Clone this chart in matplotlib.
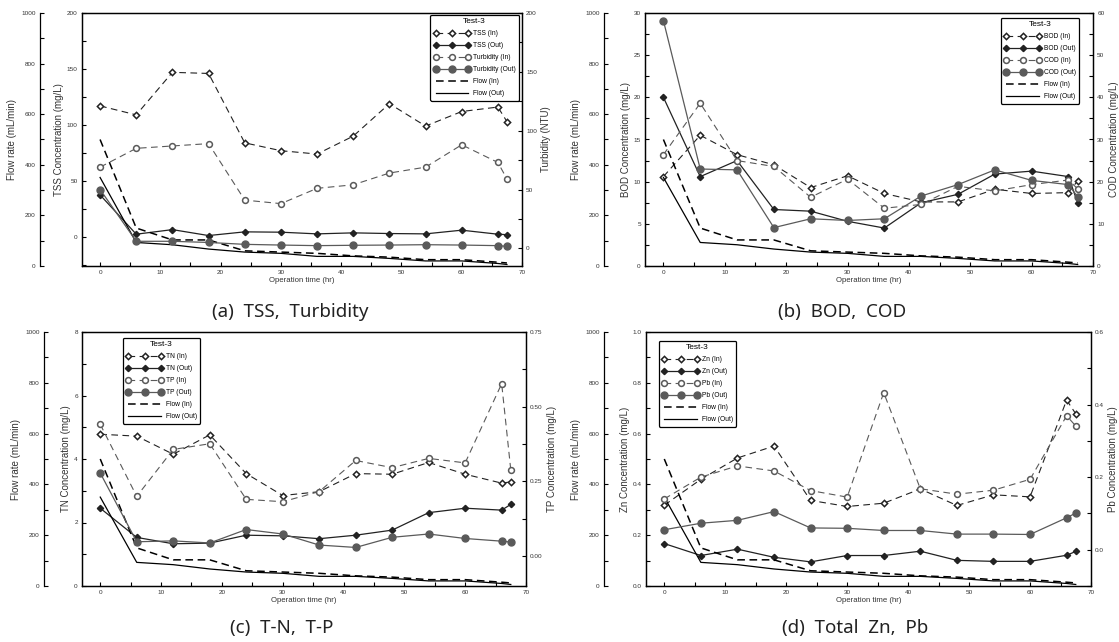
import matplotlib
matplotlib.use("Agg")
import matplotlib.pyplot as plt
from matplotlib.ticker import MultipleLocator

plt.rcParams['font.family'] = ['Liberation Sans', 'DejaVu Sans']

# sampling times (hr)
hours = [0, 6, 12, 18, 24, 30, 36, 42, 48, 54, 60, 66, 67.5]

# flow rate (mL/min), same run in every panel
flow_in = [500, 150, 103, 103, 60, 55, 50, 40, 35, 25, 25, 15, 12]
flow_out = [350, 93, 84, 67, 55, 50, 38, 38, 30, 20, 20, 10, 6]

# (a) TSS (mg/L), turbidity (NTU)
tss_in = [117, 109, 147, 146, 84, 77, 74, 90, 119, 99, 112, 116, 103]
tss_out = [37.5, 2.4, 6.5, 1.2, 4.5, 4.2, 2.7, 3.6, 3.0, 2.7, 6.0, 2.4, 2.0]
turb_in = [69, 85, 87, 89, 41, 38, 51, 54, 64, 69, 88, 73, 59]
turb_out = [50, 6, 6, 5, 3.4, 2.8, 2.3, 2.6, 2.8, 3.1, 2.8, 2.3, 1.7]

# (b) BOD, COD (mg/L)
bod_in = [10.6, 15.5, 13.2, 12.0, 9.3, 10.7, 8.6, 7.6, 7.6, 9.1, 8.6, 8.7, 10.1]
bod_out = [20.0, 10.6, 12.5, 6.7, 6.5, 5.3, 4.5, 7.5, 8.5, 10.9, 11.25, 10.6, 7.5]
cod_in = [26.4, 38.6, 25.0, 23.6, 16.3, 20.6, 13.7, 14.6, 18.9, 17.8, 19.3, 20.4, 18.3]
cod_out = [58.2, 23.0, 22.8, 9.1, 11.2, 10.8, 11.2, 16.6, 19.3, 22.8, 20.3, 19.3, 16.4]

# (c) T-N, T-P (mg/L)
tn_in = [4.78, 4.72, 4.15, 4.76, 3.54, 2.85, 2.97, 3.54, 3.52, 3.89, 3.52, 3.24, 3.28]
tn_out = [2.45, 1.53, 1.33, 1.35, 1.60, 1.58, 1.49, 1.60, 1.76, 2.31, 2.45, 2.39, 2.57]
tp_in = [0.441, 0.200, 0.357, 0.376, 0.190, 0.182, 0.216, 0.320, 0.296, 0.327, 0.312, 0.577, 0.288]
tp_out = [0.278, 0.048, 0.051, 0.044, 0.089, 0.074, 0.037, 0.029, 0.063, 0.074, 0.059, 0.050, 0.047]

# (d) Zn, Pb (mg/L)
zn_in = [0.318, 0.420, 0.504, 0.551, 0.337, 0.313, 0.326, 0.382, 0.317, 0.359, 0.351, 0.732, 0.678]
zn_out = [0.167, 0.120, 0.145, 0.113, 0.095, 0.120, 0.120, 0.137, 0.101, 0.097, 0.097, 0.121, 0.136]
pb_in = [0.140, 0.200, 0.231, 0.217, 0.163, 0.145, 0.433, 0.168, 0.153, 0.164, 0.194, 0.369, 0.341]
pb_out = [0.055, 0.073, 0.081, 0.105, 0.060, 0.059, 0.053, 0.053, 0.043, 0.043, 0.042, 0.088, 0.101]

W, H = 1119, 642
GRAY = '#5a5a5a'
TXT = '#333333'


def px_rect(x0, y0, x1, y1):
    return [x0 / W, 1 - y1 / H, (x1 - x0) / W, (y1 - y0) / H]


def style_axis(a, which, pad):
    a.tick_params(axis=which, direction='in', labelsize=4.6, labelcolor=TXT,
                  length=3, width=0.8, pad=pad)
    a.tick_params(axis=which, which='minor', direction='in', length=3, width=0.8)


def make_panel(fig, rect, flow_off, names, left, right, lylim, lstep, rylim, rticks, rstep,
               llabel, rlabel, leg_loc, leg_xy):
    ax = fig.add_axes(px_rect(*rect))
    axf = ax.twinx()
    axr = ax.twinx()

    # flow rate axis, detached on the far left
    axf.yaxis.set_ticks_position('left')
    axf.yaxis.set_label_position('left')
    axf.spines['left'].set_position(('outward', flow_off * 0.72))
    for s in ['right', 'top', 'bottom']:
        axf.spines[s].set_visible(False)
    axf.set_ylim(0, 1000)
    axf.yaxis.set_major_locator(MultipleLocator(200))
    axf.yaxis.set_minor_locator(MultipleLocator(100))
    style_axis(axf, 'y', 3)
    axf.set_ylabel('Flow rate (mL/min)', fontsize=7, color=TXT, labelpad=3)

    lf1, = axf.plot(hours, flow_in, color='black', lw=1.1, ls=(0, (5, 3)))
    lf2, = axf.plot(hours, flow_out, color='black', lw=0.9)

    l1, = ax.plot(hours, left[0], color='#222222', lw=0.8, ls=(0, (6, 4)),
                  marker='D', ms=3.2, mfc='white', mec='#222222', mew=1.1)
    l2, = ax.plot(hours, left[1], color='#222222', lw=0.9,
                  marker='D', ms=3.2, mfc='#222222', mec='#222222')
    ax.set_xlim(-3, 70)
    ax.set_ylim(*lylim)
    ax.yaxis.set_major_locator(MultipleLocator(lstep))
    ax.yaxis.set_minor_locator(MultipleLocator(lstep / 2))
    ax.xaxis.set_major_locator(MultipleLocator(10))
    ax.xaxis.set_minor_locator(MultipleLocator(5))
    style_axis(ax, 'y', 3)
    style_axis(ax, 'x', 3)
    ax.set_ylabel(llabel, fontsize=7, color=TXT, labelpad=2)
    ax.set_xlabel('Operation time (hr)', fontsize=5.6, color=TXT, labelpad=1)

    r1, = axr.plot(hours, right[0], color=GRAY, lw=0.8, ls=(0, (6, 4)),
                   marker='o', ms=4.2, mfc='white', mec=GRAY, mew=1.1)
    r2, = axr.plot(hours, right[1], color=GRAY, lw=0.9,
                   marker='o', ms=5, mfc=GRAY, mec=GRAY)
    axr.set_ylim(*rylim)
    axr.set_yticks(rticks)
    axr.yaxis.set_minor_locator(MultipleLocator(rstep))
    style_axis(axr, 'y', 3)
    axr.set_ylabel(rlabel, fontsize=7, color=TXT, labelpad=3)

    for a in (ax, axf, axr):
        for s in a.spines.values():
            s.set_linewidth(0.9)

    handles = [l1, l2, r1, r2, lf1, lf2]
    labels = [names[0] + ' (In)', names[0] + ' (Out)', names[1] + ' (In)', names[1] + ' (Out)',
              'Flow (In)', 'Flow (Out)']
    leg = axr.legend(handles, labels, loc=leg_loc, bbox_to_anchor=leg_xy, borderaxespad=0,
                     title='Test-3', fontsize=4.8, title_fontsize=6, numpoints=3,
                     handlelength=5.5, handletextpad=0.4, labelspacing=0.75,
                     frameon=True, fancybox=True, framealpha=1, edgecolor='black',
                     borderpad=0.5)
    leg.get_frame().set_linewidth(0.9)
    return ax


fig = plt.figure(figsize=(W / 100, H / 100), dpi=100)

make_panel(fig, (82, 13, 522, 266), 42, ('TSS', 'Turbidity'), (tss_in, tss_out), (turb_in, turb_out),
           (-26, 200), 50, (-15, 200), [0, 50, 100, 150, 200], 25,
           'TSS Concentration (mg/L)', 'Turbidity (NTU)', 'upper right', (0.993, 0.992))

make_panel(fig, (645, 13, 1093, 266), 41, ('BOD', 'COD'), (bod_in, bod_out), (cod_in, cod_out),
           (0, 30), 5, (0, 60), [0, 10, 20, 30, 40, 50, 60], 5,
           'BOD Concentration (mg/L)', 'COD Concentration (mg/L)', 'upper right', (0.969, 0.98))

make_panel(fig, (82, 332, 526, 586), 38, ('TN', 'TP'), (tn_in, tn_out), (tp_in, tp_out),
           (0, 8), 2, (-0.1, 0.75), [0, 0.25, 0.5, 0.75], 0.125,
           'TN Concentration (mg/L)', 'TP Concentration (mg/L)', 'upper left', (0.092, 0.976))

make_panel(fig, (646, 332, 1091, 586), 42, ('Zn', 'Pb'), (zn_in, zn_out), (pb_in, pb_out),
           (0, 1), 0.2, (-0.1, 0.6), [0, 0.2, 0.4, 0.6], 0.1,
           'Zn Concentration (mg/L)', 'Pb Concentration (mg/L)', 'upper left', (0.029, 0.965))

caps = ['(a)  TSS,  Turbidity', '(b)  BOD,  COD', '(c)  T-N,  T-P', '(d)  Total  Zn,  Pb']
cap_xy = [(290, 312), (842, 312), (282, 628), (855, 628)]
for txt, (cx, cy) in zip(caps, cap_xy):
    fig.text(cx / W, 1 - cy / H, txt, ha='center', va='center', fontsize=13.5,
             color='#222222', family=['Noto Sans', 'DejaVu Sans'])

fig.savefig('out.png', dpi=100)
